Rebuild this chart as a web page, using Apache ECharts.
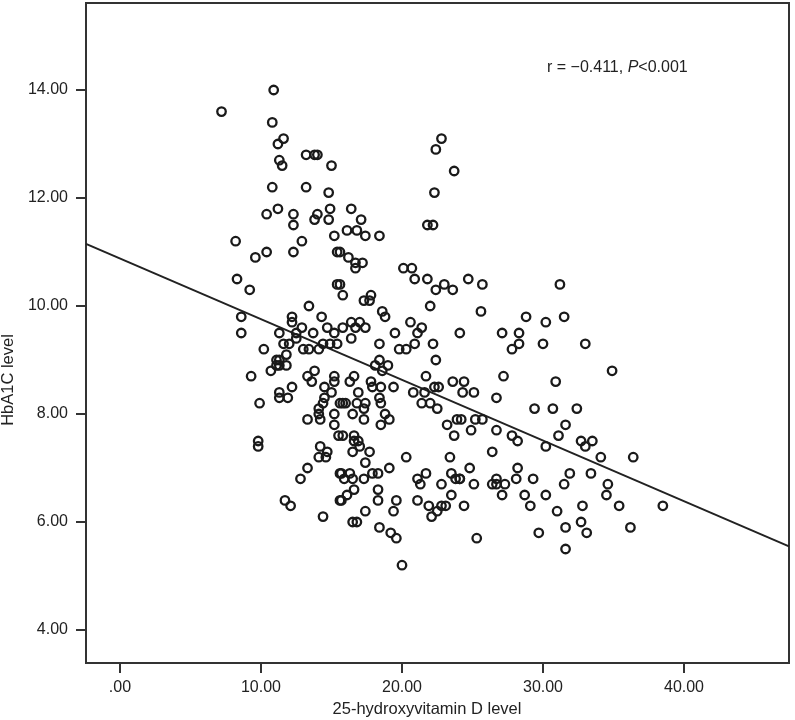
<!DOCTYPE html>
<html>
<head>
<meta charset="utf-8">
<style>
  html, body { margin: 0; background: #fff; }
  #chart { width: 795px; height: 720px; }
</style>
<script src="https://cdn.jsdelivr.net/npm/echarts@6/dist/echarts.min.js"></script>
</head>
<body>
<div id="chart"></div>
<script>
// values, same order in both arrays, one row per reading pass
const vitaminD = [
  10.9, 7.2, 10.8, 11.6, 11.2, 13.2, 13.8, 14.0, 15.0, 11.3, 11.5, 10.8, 13.2, 14.8, 11.2, 10.4, 12.3, 12.3,
  14.0, 13.8, 14.9, 14.8, 15.2, 15.4, 12.9, 12.3, 10.4, 9.6, 8.2, 8.3, 9.2, 15.4, 15.6, 15.8, 13.4,
  22.8, 22.4, 23.7, 22.3, 21.8, 22.2, 16.4, 17.1, 16.1, 16.8, 17.4, 18.4, 15.6, 16.2, 16.7, 17.2, 16.7, 20.1,
  20.7, 20.9, 21.8, 24.7, 25.7, 23.0, 22.4, 23.6, 22.0, 25.6, 17.8, 17.3, 17.7, 18.6, 18.8, 20.6, 21.4, 21.1,
  24.1, 19.5, 15.8, 16.4, 17.0, 16.7, 17.4, 16.4,
  8.6, 8.6, 12.2, 12.2, 14.3, 12.9, 14.7, 15.2, 12.5, 11.3, 13.7, 12.5, 11.6, 12.0, 14.4, 14.9, 15.4, 10.2,
  13.0, 13.4, 14.1, 11.8, 11.1, 11.3, 11.1, 11.3, 11.8, 10.7, 9.3, 13.8, 13.3, 13.6, 15.2, 15.2, 14.5, 15.0,
  12.2, 11.3, 11.3, 11.9, 14.5, 9.9, 14.4, 14.1, 15.6, 14.1, 15.2, 14.2, 13.3, 15.2,
  18.4, 22.2, 20.9, 19.8, 20.3, 22.4, 18.4, 18.1, 19.0, 18.6, 21.7, 16.6, 16.3, 17.8, 17.9, 18.5, 19.4, 23.6,
  22.3, 22.6, 20.8, 21.6, 16.9, 18.4, 18.5, 15.8, 16.0, 16.8, 17.4, 17.3, 21.4, 22.0, 22.5, 16.5, 18.8, 19.1,
  17.3, 18.5, 23.2, 23.9,
  9.8, 9.8, 14.2, 14.7, 14.1, 14.6, 13.3, 12.8, 15.6, 11.7, 12.1, 14.4, 15.6, 15.5,
  23.7, 15.8, 16.6, 16.9, 16.6, 17.0, 16.5, 17.7, 17.4, 20.3, 23.4, 19.1, 21.7, 21.1, 21.3, 23.5, 23.8, 24.1,
  22.8, 17.9, 18.3, 17.3, 15.7, 16.3, 15.9, 16.5, 18.3, 16.6, 16.1, 15.7, 18.3, 19.6, 21.1, 21.9, 23.5, 23.1,
  22.8, 22.5, 22.1, 19.4, 17.4, 16.5, 16.8, 18.4, 19.2, 19.6, 20.0,
  31.2, 28.8, 30.2, 31.5, 27.1, 28.3, 28.3, 27.8, 30.0, 33.0, 34.9, 27.2, 30.9, 24.4, 24.3, 25.1, 26.7, 29.4,
  30.7, 32.4, 31.6, 31.1, 32.7, 33.5, 33.0, 30.2, 34.1, 36.4, 24.2, 25.2, 25.7, 24.9, 26.7, 27.8, 28.2, 26.4,
  24.8, 28.2, 26.7, 28.1, 29.3, 31.9, 33.4, 24.1, 25.1, 26.4, 26.7, 27.3, 31.5, 34.6, 34.5, 27.1, 28.7, 30.2,
  24.4, 29.1, 32.8, 35.4, 31.0, 32.7, 31.6, 33.1, 36.2, 29.7, 25.3, 31.6, 38.5
];
const hba1c = [
  14.0, 13.6, 13.4, 13.1, 13.0, 12.8, 12.8, 12.8, 12.6, 12.7, 12.6, 12.2, 12.2, 12.1, 11.8, 11.7, 11.7, 11.5,
  11.7, 11.6, 11.8, 11.6, 11.3, 11.0, 11.2, 11.0, 11.0, 10.9, 11.2, 10.5, 10.3, 10.4, 10.4, 10.2, 10.0,
  13.1, 12.9, 12.5, 12.1, 11.5, 11.5, 11.8, 11.6, 11.4, 11.4, 11.3, 11.3, 11.0, 10.9, 10.8, 10.8, 10.7, 10.7,
  10.7, 10.5, 10.5, 10.5, 10.4, 10.4, 10.3, 10.3, 10.0, 9.9, 10.2, 10.1, 10.1, 9.9, 9.8, 9.7, 9.6, 9.5,
  9.5, 9.5, 9.6, 9.7, 9.7, 9.6, 9.6, 9.4,
  9.8, 9.5, 9.8, 9.7, 9.8, 9.6, 9.6, 9.5, 9.5, 9.5, 9.5, 9.4, 9.3, 9.3, 9.3, 9.3, 9.3, 9.2,
  9.2, 9.2, 9.2, 9.1, 9.0, 9.0, 8.9, 8.9, 8.9, 8.8, 8.7, 8.8, 8.7, 8.6, 8.7, 8.6, 8.5, 8.4,
  8.5, 8.4, 8.3, 8.3, 8.3, 8.2, 8.2, 8.1, 8.2, 8.0, 8.0, 7.9, 7.9, 7.8,
  9.3, 9.3, 9.3, 9.2, 9.2, 9.0, 9.0, 8.9, 8.9, 8.8, 8.7, 8.7, 8.6, 8.6, 8.5, 8.5, 8.5, 8.6,
  8.5, 8.5, 8.4, 8.4, 8.4, 8.3, 8.2, 8.2, 8.2, 8.2, 8.2, 8.1, 8.2, 8.2, 8.1, 8.0, 8.0, 7.9,
  7.9, 7.8, 7.8, 7.9,
  7.5, 7.4, 7.4, 7.3, 7.2, 7.2, 7.0, 6.8, 6.9, 6.4, 6.3, 6.1, 6.4, 7.6,
  7.6, 7.6, 7.6, 7.5, 7.5, 7.4, 7.3, 7.3, 7.1, 7.2, 7.2, 7.0, 6.9, 6.8, 6.7, 6.9, 6.8, 6.8,
  6.7, 6.9, 6.9, 6.8, 6.9, 6.9, 6.8, 6.8, 6.6, 6.6, 6.5, 6.4, 6.4, 6.4, 6.4, 6.3, 6.5, 6.3,
  6.3, 6.2, 6.1, 6.2, 6.2, 6.0, 6.0, 5.9, 5.8, 5.7, 5.2,
  10.4, 9.8, 9.7, 9.8, 9.5, 9.5, 9.3, 9.2, 9.3, 9.3, 8.8, 8.7, 8.6, 8.6, 8.4, 8.4, 8.3, 8.1,
  8.1, 8.1, 7.8, 7.6, 7.5, 7.5, 7.4, 7.4, 7.2, 7.2, 7.9, 7.9, 7.9, 7.7, 7.7, 7.6, 7.5, 7.3,
  7.0, 7.0, 6.8, 6.8, 6.8, 6.9, 6.9, 6.8, 6.7, 6.7, 6.7, 6.7, 6.7, 6.7, 6.5, 6.5, 6.5, 6.5,
  6.3, 6.3, 6.3, 6.3, 6.2, 6.0, 5.9, 5.8, 5.9, 5.8, 5.7, 5.5, 6.3
];
const fitX = [-2.411, 47.447];
const fitY = [11.15, 5.55];
const xTicks = [0, 10, 20, 30, 40];
const yTicks = [4, 6, 8, 10, 12, 14];

const INK = '#222';
const chart = echarts.init(document.getElementById('chart'), null, { renderer: 'canvas' });

chart.setOption({
  animation: false,
  backgroundColor: '#fff',
  textStyle: { fontFamily: '"Liberation Sans", Arial, sans-serif' },
  title: {
    left: 542,
    top: 55,
    text: '{a|r = \u22120.411, }{p|P}{a|<0.001}',
    textStyle: {
      fontWeight: 'normal',
      rich: {
        a: { fontSize: 16, fontWeight: 'normal', color: INK, fontFamily: '"Liberation Sans"' },
        p: { fontSize: 16, fontWeight: 'normal', color: INK, fontStyle: 'italic', fontFamily: '"Liberation Sans"' },
      },
    },
  },
  grid: {
    left: 86,
    right: 6,
    top: 3,
    bottom: 57,
    show: true,
    borderColor: '#333',
    borderWidth: 2,
    containLabel: false,
    // v6 shrinks the grid to keep names on the canvas otherwise
    outerBoundsMode: 'none',
  },
  xAxis: {
    type: 'value',
    min: -2.411,
    max: 47.447,
    name: '25-hydroxyvitamin D level',
    nameLocation: 'middle',
    nameGap: 38,
    // the source title sits left of the plot centre
    nameTextStyle: { color: INK, fontSize: 16.5, padding: [0, 21, 0, 0] },
    splitLine: { show: false },
    axisLine: { onZero: false, lineStyle: { color: '#333', width: 2 } },
    axisTick: { length: 10, customValues: xTicks, lineStyle: { color: '#333', width: 2 } },
    axisLabel: {
      customValues: xTicks,
      margin: 17,
      color: INK,
      fontSize: 16,
      // SPSS style: zero has no leading digit
      formatter: (v) => (v === 0 ? '.00' : v.toFixed(2)),
    },
  },
  yAxis: {
    type: 'value',
    min: 3.389,
    max: 15.611,
    name: 'HbA1C level',
    nameLocation: 'middle',
    nameGap: 68,
    // same here, it sits below the plot centre
    nameTextStyle: { color: INK, fontSize: 16.5, padding: [0, 94, 0, 0] },
    splitLine: { show: false },
    axisLine: { onZero: false, lineStyle: { color: '#333', width: 2 } },
    axisTick: { length: 10, customValues: yTicks, lineStyle: { color: '#333', width: 2 } },
    axisLabel: {
      customValues: yTicks,
      margin: 18,
      padding: [3, 0, 0, 0],
      color: INK,
      fontSize: 16,
      formatter: (v) => v.toFixed(2),
    },
  },
  series: [
    {
      type: 'line',
      data: fitX.map((x, i) => [x, fitY[i]]),
      symbol: 'none',
      silent: true,
      z: 1,
      lineStyle: { color: INK, width: 2 },
    },
    {
      type: 'scatter',
      data: vitaminD.map((x, i) => [x, hba1c[i]]),
      symbol: 'circle',
      symbolSize: 8.5,
      z: 2,
      itemStyle: { color: 'transparent', borderColor: '#1a1a1a', borderWidth: 2.3, opacity: 1 },
    },
  ],
});
</script>
</body>
</html>
